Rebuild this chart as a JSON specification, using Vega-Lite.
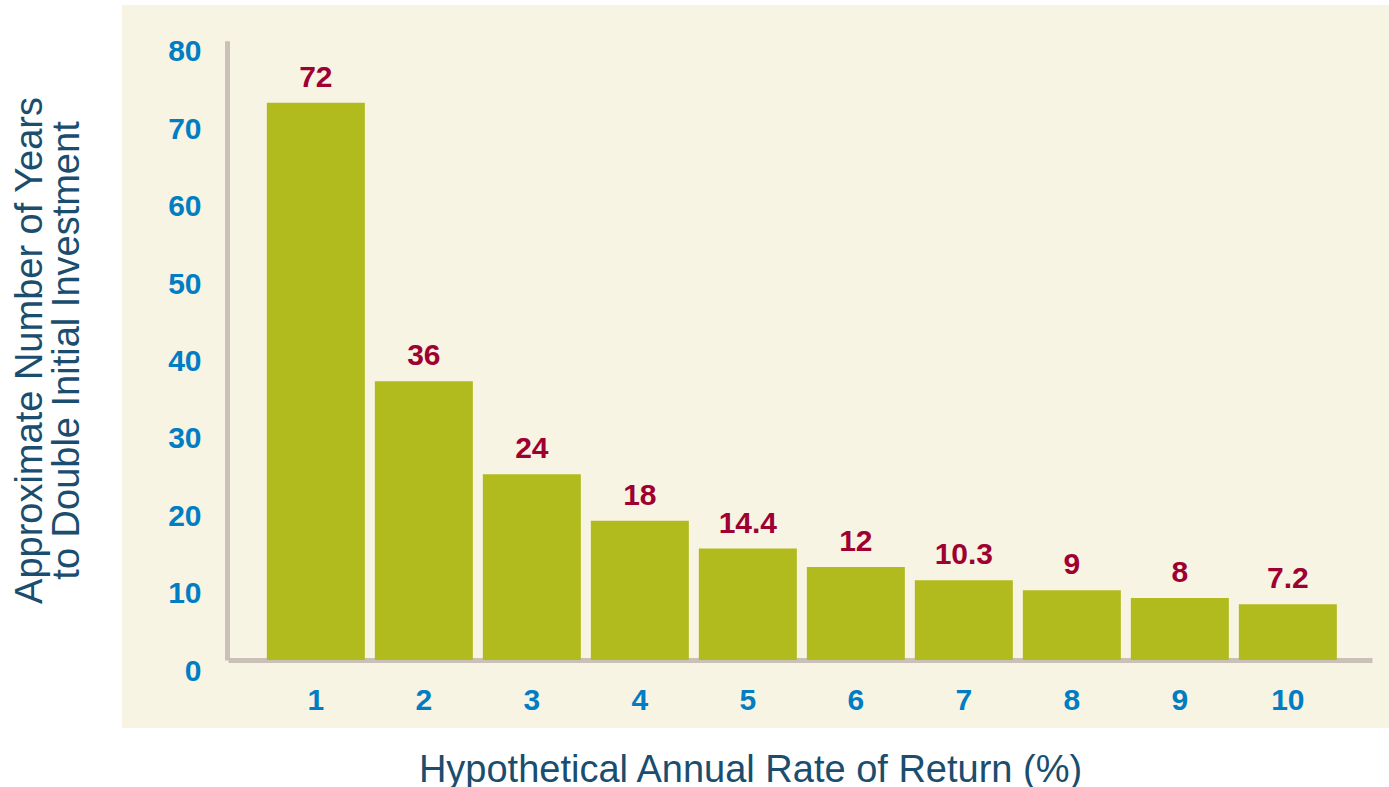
{
  "$schema": "https://vega.github.io/schema/vega-lite/v6.json",
  "width": 1267,
  "height": 723,
  "autosize": {"type": "none"},
  "padding": {"left": 122, "top": 5, "right": 0, "bottom": 59},
  "background": "#ffffff",
  "config": {
    "view": {"fill": "#f8f4e3", "stroke": null},
    "font": "Liberation Sans"
  },
  "data": {
    "values": [
      {"rate": 1, "years": 72},
      {"rate": 2, "years": 36},
      {"rate": 3, "years": 24},
      {"rate": 4, "years": 18},
      {"rate": 5, "years": 14.4},
      {"rate": 6, "years": 12},
      {"rate": 7, "years": 10.3},
      {"rate": 8, "years": 9},
      {"rate": 9, "years": 8},
      {"rate": 10, "years": 7.2}
    ]
  },
  "encoding": {
    "x": {
      "field": "rate",
      "type": "ordinal",
      "scale": {"range": [106, 1250], "paddingInner": 0.0926, "paddingOuter": 0.3426, "align": 0.525},
      "axis": {
        "title": "Hypothetical Annual Rate of Return (%)",
        "orient": "bottom",
        "offset": -68,
        "domainColor": "#c9c1b7",
        "domainWidth": 5,
        "ticks": false,
        "tickSize": 0,
        "grid": false,
        "labelAngle": 0,
        "labelFont": "Liberation Sans",
        "labelFontWeight": "bold",
        "labelFontSize": 30,
        "labelColor": "#007dc3",
        "labelBaseline": "alphabetic",
        "labelPadding": 49,
        "titleFont": "Liberation Sans",
        "titleFontSize": 38,
        "titleFontWeight": "normal",
        "titleColor": "#1a4d6e",
        "titleX": 628,
        "titleY": 121.7,
        "titleBaseline": "alphabetic",
        "titleAlign": "center"
      }
    },
    "y": {
      "field": "years",
      "type": "quantitative",
      "scale": {"domain": [0, 80], "range": [655, 35.8], "nice": false, "zero": true},
      "axis": {
        "title": ["Approximate Number of Years", "to Double Initial Investment"],
        "values": [0, 10, 20, 30, 40, 50, 60, 70, 80],
        "offset": -105,
        "domainColor": "#c9c1b7",
        "domainWidth": 5,
        "ticks": false,
        "tickSize": 0,
        "grid": false,
        "labelFont": "Liberation Sans",
        "labelFontWeight": "bold",
        "labelFontSize": 30,
        "labelColor": "#007dc3",
        "labelPadding": 26,
        "labelBaseline": "alphabetic",
        "labelOffset": 20,
        "labelFlush": false,
        "labelOverlap": false,
        "titleFont": "Liberation Sans",
        "titleFontSize": 38,
        "titleFontWeight": "normal",
        "titleColor": "#1a4d6e",
        "titleAngle": -90,
        "titleX": -185.3,
        "titleY": 345,
        "titleAlign": "center",
        "titleBaseline": "alphabetic",
        "titleLineHeight": 36.6
      }
    }
  },
  "layer": [
    {"mark": {"type": "bar", "color": "#b2bb1e"}},
    {
      "mark": {"type": "text", "font": "Liberation Sans", "fontWeight": "bold", "fontSize": 30, "color": "#9e0032", "baseline": "alphabetic", "dy": -16},
      "encoding": {"text": {"field": "years", "type": "quantitative"}}
    }
  ]
}
